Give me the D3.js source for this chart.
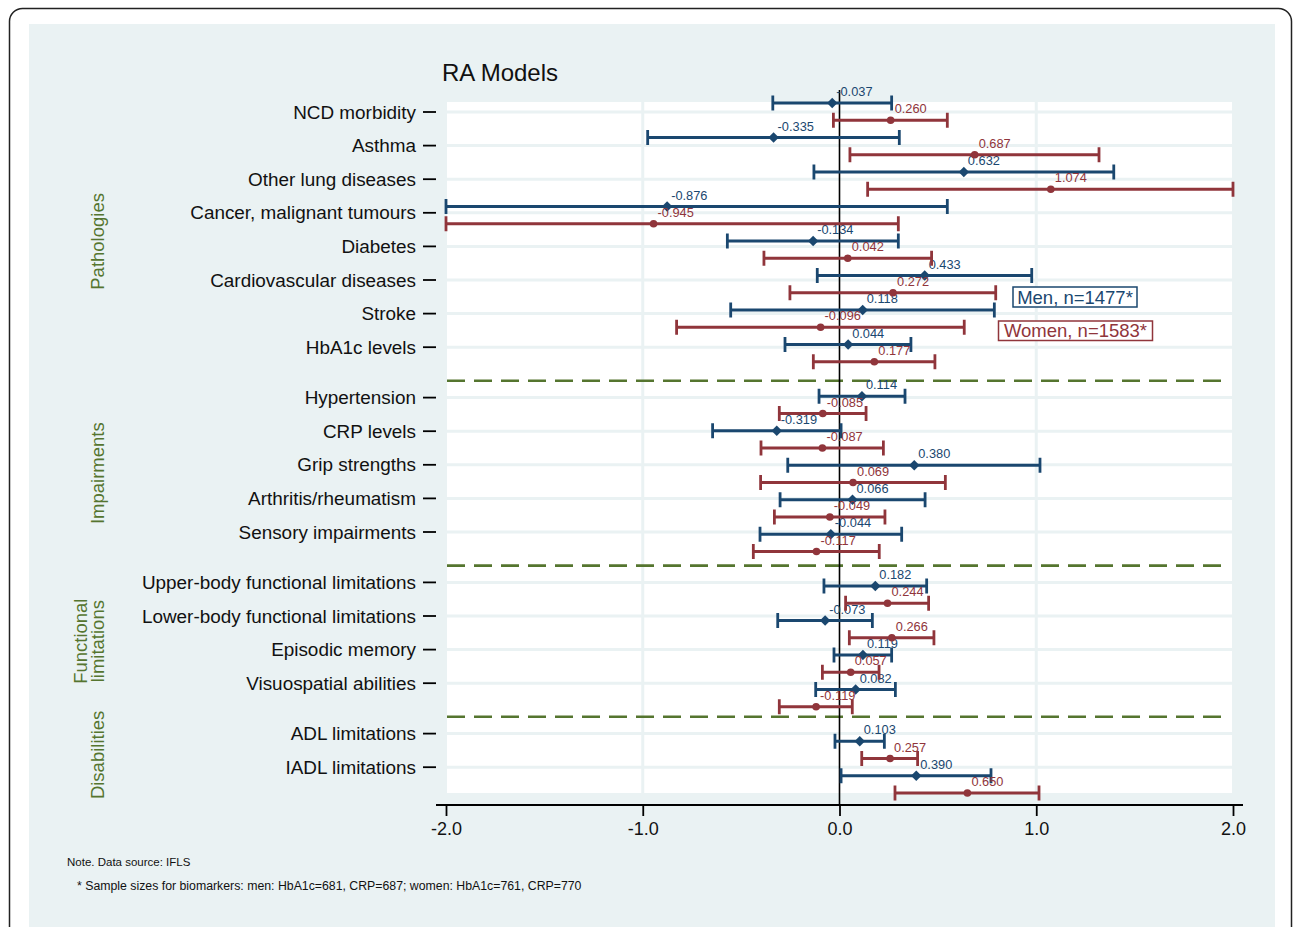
<!DOCTYPE html>
<html><head><meta charset="utf-8">
<script src="https://cdn.jsdelivr.net/npm/d3@7"></script>
<style>body{margin:0;background:#fff;}svg{display:block;font-family:"Liberation Sans",Arial,sans-serif;}</style>
</head><body>
<svg id="c" width="1295" height="927"></svg>
<script>
const categories = ["NCD morbidity","Asthma","Other lung diseases","Cancer, malignant tumours","Diabetes","Cardiovascular diseases","Stroke","HbA1c levels",
 "Hypertension","CRP levels","Grip strengths","Arthritis/rheumatism","Sensory impairments",
 "Upper-body functional limitations","Lower-body functional limitations","Episodic memory","Visuospatial abilities",
 "ADL limitations","IADL limitations"];
const groupOf = [0,0,0,0,0,0,0,0, 1,1,1,1,1, 2,2,2,2, 3,3];
const groupNames = [["Pathologies"],["Impairments"],["Functional","limitations"],["Disabilities"]];
const menB  = [-0.037,-0.335,0.632,-0.876,-0.134,0.433,0.118,0.044, 0.114,-0.319,0.380,0.066,-0.044, 0.182,-0.073,0.119,0.082, 0.103,0.390];
const menLo = [-0.339,-0.975,-0.130,-2.000,-0.570,-0.113,-0.553,-0.277, -0.104,-0.645,-0.263,-0.302,-0.404, -0.079,-0.314,-0.028,-0.121, -0.023,0.008];
const menHi = [0.265,0.304,1.394,0.548,0.299,0.977,0.787,0.363, 0.333,0.008,1.019,0.435,0.316, 0.443,0.167,0.265,0.284, 0.228,0.770];
const womB  = [0.260,0.687,1.074,-0.945,0.042,0.272,-0.096,0.177, -0.085,-0.087,0.069,-0.049,-0.117, 0.244,0.266,0.057,-0.119, 0.257,0.650];
const womLo = [-0.031,0.053,0.143,-2.000,-0.384,-0.252,-0.828,-0.133, -0.306,-0.399,-0.401,-0.331,-0.438, 0.031,0.050,-0.087,-0.306, 0.113,0.282];
const womHi = [0.548,1.319,2.000,0.299,0.468,0.794,0.634,0.485, 0.135,0.223,0.538,0.231,0.202, 0.453,0.480,0.201,0.065, 0.397,1.014];
const xTicks = [-2,-1,0,1,2];
const legendLabels = ["Men, n=1477*","Women, n=1583*"];
const notes = ["Note. Data source: IFLS","* Sample sizes for biomarkers: men: HbA1c=681, CRP=687; women: HbA1c=761, CRP=770"];

const NAVY="#1a476f", MAROON="#90353b", GREEN="#55752f", BG="#eaf2f3";
const svg = d3.select("#c");

// slots
const slots = []; const dividers = [];
let s = 0;
categories.forEach((c,i)=>{
  if(i>0 && groupOf[i]!==groupOf[i-1]){ dividers.push(slots[i-1]+1); s = slots[i-1]+1.5; }
  slots.push(s); s += 1;
});
const x = d3.scaleLinear().domain([-2,2]).range([446,1233]);
const yM = d3.scaleLinear().domain([0,20]).range([103,793]);     // marker positions
const yT = d3.scaleLinear().domain([0,19.5]).range([112,767.2]); // label/tick positions

// frame
svg.append("rect").attr("x",9.5).attr("y",8.5).attr("width",1282).attr("height",940).attr("rx",13)
  .attr("fill","#fff").attr("stroke","#222").attr("stroke-width",1.5);
svg.append("rect").attr("x",29).attr("y",24).attr("width",1246).attr("height",910).attr("fill",BG);

// plot area
svg.append("rect").attr("x",447).attr("y",102).attr("width",785).attr("height",691).attr("fill","#fff");
const g = svg.append("g");
g.selectAll(".hg").data(slots).join("line")
  .attr("x1",447).attr("x2",1232).attr("y1",d=>yT(d)).attr("y2",d=>yT(d))
  .attr("stroke",BG).attr("stroke-width",3);
g.selectAll(".vg").data([-1,1]).join("line")
  .attr("x1",d=>x(d)).attr("x2",d=>x(d)).attr("y1",102).attr("y2",793)
  .attr("stroke",BG).attr("stroke-width",3);
// dividers
g.selectAll(".dv").data(dividers).join("line")
  .attr("x1",447).attr("x2",1228).attr("y1",d=>yT(d)).attr("y2",d=>yT(d))
  .attr("stroke",GREEN).attr("stroke-width",2.6).attr("stroke-dasharray","18,9");
// zero line
g.append("line").attr("x1",x(0)).attr("x2",x(0)).attr("y1",90).attr("y2",805)
  .attr("stroke","#000").attr("stroke-width",1.6);

// series
function drawSeries(b,lo,hi,off,color,shape){
  const gg = svg.append("g");
  const rows = categories.map((c,i)=>({b:b[i],lo:lo[i],hi:hi[i],y:yM(slots[i]+off)}));
  gg.selectAll(".ci").data(rows).join("line")
    .attr("x1",d=>x(d.lo)).attr("x2",d=>x(d.hi)).attr("y1",d=>d.y).attr("y2",d=>d.y)
    .attr("stroke",color).attr("stroke-width",2.8);
  ["lo","hi"].forEach(k=>{
    gg.selectAll(".cap"+k).data(rows).join("line")
      .attr("x1",d=>x(d[k])).attr("x2",d=>x(d[k])).attr("y1",d=>d.y-7.5).attr("y2",d=>d.y+7.5)
      .attr("stroke",color).attr("stroke-width",2.8);
  });
  gg.selectAll(".pt").data(rows).join("path")
    .attr("d",d3.symbol().type(shape==="d"?d3.symbolDiamond2:d3.symbolCircle).size(shape==="d"?70:46))
    .attr("transform",d=>`translate(${x(d.b)},${d.y})`)
    .attr("fill",color);
  gg.selectAll(".lb").data(rows).join("text")
    .attr("x",d=>x(d.b)+4).attr("y",d=>d.y-7)
    .attr("font-size",12.8).attr("fill",color)
    .text(d=>d3.format(".3f")(d.b).replace("−","-"));
}
drawSeries(menB,menLo,menHi,0,NAVY,"d");
drawSeries(womB,womLo,womHi,0.5,MAROON,"c");

// y ticks and labels
svg.selectAll(".yt").data(slots).join("line")
  .attr("x1",423).attr("x2",436).attr("y1",d=>yT(d)).attr("y2",d=>yT(d))
  .attr("stroke","#000").attr("stroke-width",1.8);
svg.selectAll(".yl").data(categories).join("text")
  .attr("x",416).attr("y",(d,i)=>yT(slots[i])).attr("dy","0.35em")
  .attr("text-anchor","end").attr("font-size",18.9).attr("fill","#111").text(d=>d);

// x axis
const ax = svg.append("g").attr("transform","translate(0,805)")
  .call(d3.axisBottom(x).tickValues(xTicks).tickFormat(d3.format(".1f")).tickSize(11).tickPadding(6));
ax.select(".domain").attr("d","M436,0H1243").attr("stroke","#000").attr("stroke-width",2);
ax.selectAll(".tick line").attr("stroke","#000").attr("stroke-width",1.8);
ax.selectAll(".tick text").attr("font-size",18).attr("fill","#111")
  .attr("font-family","'Liberation Sans',Arial,sans-serif").text(d=>d3.format(".1f")(d).replace("−","-"));

// group labels
const bounds = [102, ...dividers.map(d=>yT(d)), 793];
groupNames.forEach((lines,gi)=>{
  const cy = (bounds[gi]+bounds[gi+1])/2;
  lines.forEach((t,li)=>{
    const cx = 98 - (lines.length-1-li)*17.5 ;
    svg.append("text").attr("transform",`translate(${cx},${cy}) rotate(-90)`)
      .attr("text-anchor","middle").attr("dy","0.35em")
      .attr("font-size",18.5).attr("fill",GREEN).text(t);
  });
});

// title
svg.append("text").attr("x",442).attr("y",81).attr("font-size",24).attr("fill","#111").text("RA Models");

// legend boxes
const legBoxes = [{x:1013,y:287,w:124,h:20,c:NAVY},{x:998.5,y:321,w:154,h:19.5,c:MAROON}];
legendLabels.forEach((t,i)=>{
  const b = legBoxes[i];
  svg.append("rect").attr("x",b.x).attr("y",b.y).attr("width",b.w).attr("height",b.h)
    .attr("fill","#fff").attr("stroke",b.c).attr("stroke-width",1.5);
  svg.append("text").attr("x",b.x+b.w/2).attr("y",b.y+b.h/2).attr("dy","0.36em")
    .attr("text-anchor","middle").attr("font-size",18.5).attr("fill",b.c).text(t);
});

// notes
svg.append("text").attr("x",67).attr("y",866).attr("font-size",11.5).attr("fill","#111").text(notes[0]);
svg.append("text").attr("x",77).attr("y",890).attr("font-size",12.3).attr("fill","#111").text(notes[1]);
</script>
</body></html>
